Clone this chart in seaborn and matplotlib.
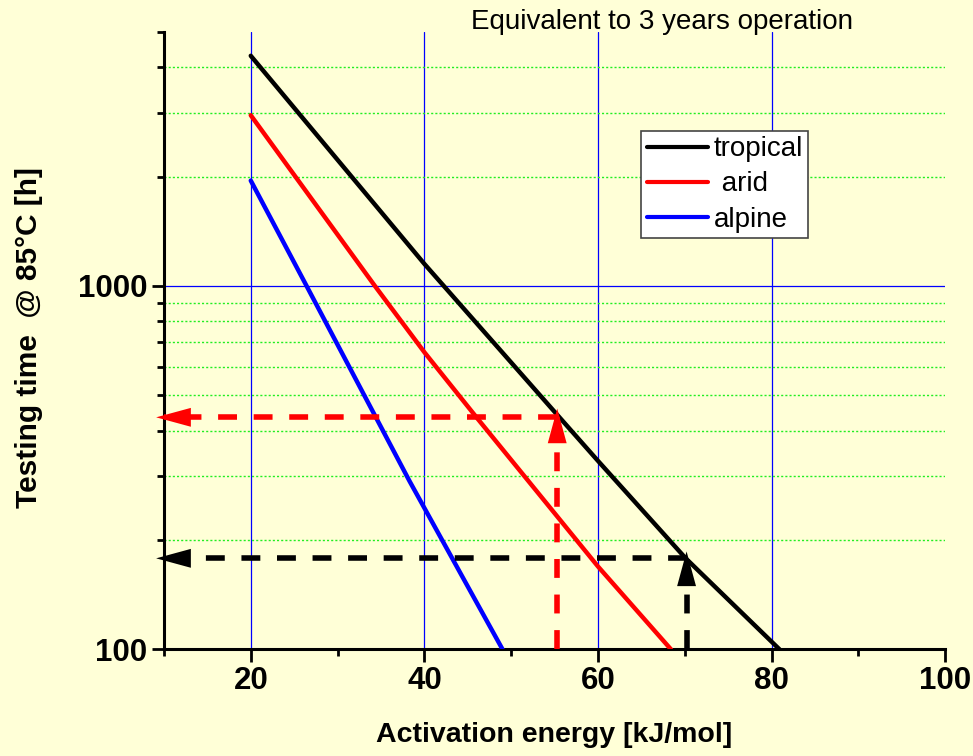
#!/usr/bin/env python
# -*- coding: utf-8 -*-
"""Testing time at 85 C equivalent to 3 years of operation."""
import numpy as np
import pandas as pd
import matplotlib
matplotlib.use('Agg')
import matplotlib.pyplot as plt
import matplotlib.ticker as mticker
import seaborn as sns

# values
tropical_ea = [20, 40, 54.8, 60, 70.1, 80.9]
tropical_time = [4300, 1150, 456, 330, 178, 100]
arid_ea = [20, 34.3, 40, 46, 60, 68.4]
arid_time = [2950, 1000, 657, 435, 169, 100]
alpine_ea = [20, 26.1, 34.5, 38.3, 49]
alpine_time = [1950, 1035, 431, 290, 100]

climates = ['tropical', 'arid', 'alpine']
legend_labels = ['tropical', ' arid', 'alpine']
colors = {'tropical': 'black', 'arid': 'red', 'alpine': 'blue'}

# read-off construction for the two marked points
arrow_ea = [55.3, 70.2]
arrow_time = [435, 178]
arrow_tip = [460, 186]
arrow_colors = ['red', 'black']

grid_ea = [20, 40, 60, 80]
title = 'Equivalent to 3 years operation'
BG = '#FFFFD7'

sns.set_theme(style='ticks')
plt.rcParams['font.family'] = ['Liberation Sans', 'DejaVu Sans']
plt.rc('figure', facecolor=BG)
plt.rc('axes', facecolor=BG, labelcolor='black')
plt.rc('savefig', facecolor=BG)
plt.rc('text', color='black')
plt.rc('xtick', color='black')
plt.rc('ytick', color='black')

dfs = []
for name, ea, tt in [('tropical', tropical_ea, tropical_time),
                     ('arid', arid_ea, arid_time),
                     ('alpine', alpine_ea, alpine_time)]:
    dfs.append(pd.DataFrame({'ea': ea, 'time': tt, 'climate': name}))
data = pd.concat(dfs, ignore_index=True)

fig = plt.figure(figsize=(9.73, 7.56), dpi=100)
ax = fig.add_axes([0.1685, 0.1411, 0.8030, 0.8166])

ax.set_yscale('log')
ax.set_xlim(10, 100)
ax.set_ylim(100, 5000)

# grid
for gx in grid_ea:
    ax.axvline(gx, color='blue', lw=0.9, zorder=1)
ax.yaxis.set_major_locator(mticker.LogLocator(base=10))
ax.yaxis.set_minor_locator(mticker.LogLocator(base=10, subs=np.arange(2, 10)))
ax.yaxis.set_major_formatter(mticker.FuncFormatter(lambda v, _: f'{v:g}'))
ax.yaxis.set_minor_formatter(mticker.NullFormatter())
ax.yaxis.grid(True, which='major', color='blue', lw=0.9, zorder=1)
minor_y = [v for v in ax.yaxis.get_minorticklocs() if 100 < v < 5000]
ax.hlines(minor_y, 10, 100, color='#22EE22', lw=1.0, linestyles=(0, (1.5, 1.5)),
          zorder=1)
ax.set_axisbelow(True)

sns.lineplot(data=data, x='ea', y='time', hue='climate', hue_order=climates,
             palette=colors, estimator=None, lw=3.2, ax=ax, zorder=3,
             legend=True)

# dashed read-off lines with arrow heads
head = '-|>,head_length=1.25,head_width=0.34'
for ea, tt, tip, col in zip(arrow_ea, arrow_time, arrow_tip, arrow_colors):
    ax.plot([ea, ax.get_xlim()[0]], [tt, tt], color=col, lw=4,
            dashes=(3.4, 3.0), zorder=4)
    ax.plot([ea, ea], [ax.get_ylim()[0], tip], color=col, lw=4,
            dashes=(3.4, 3.0), zorder=4, clip_on=False)
    ax.annotate('', xy=(9.1, tt), xytext=(ea, tt), annotation_clip=False,
                arrowprops=dict(arrowstyle=head, mutation_scale=20,
                                color=col, lw=0, shrinkA=0, shrinkB=0),
                zorder=5)
    ax.annotate('', xy=(ea, tip), xytext=(ea, ax.get_ylim()[0]),
                annotation_clip=False,
                arrowprops=dict(arrowstyle=head, mutation_scale=20,
                                color=col, lw=0, shrinkA=0, shrinkB=0),
                zorder=5)

ax.set_xticks([20, 40, 60, 80, 100])
ax.xaxis.set_minor_locator(mticker.FixedLocator([10, 30, 50, 70, 90]))
ax.tick_params(which='major', length=9, width=2, direction='out',
               labelsize=22.5, pad=3, colors='black')
ax.tick_params(which='minor', length=5, width=2, direction='out')
for lab in ax.get_xticklabels() + ax.get_yticklabels():
    lab.set_fontweight('bold')

for side in ['top', 'right']:
    ax.spines[side].set_visible(False)
for side in ['left', 'bottom']:
    ax.spines[side].set_linewidth(2.2)
    ax.spines[side].set_color('black')

ax.set_xlabel('Activation energy [kJ/mol]', fontsize=20.5, fontweight='bold')
ax.set_ylabel('Testing time  @ 85°C [h]', fontsize=21.5, fontweight='bold')
ax.xaxis.set_label_coords(0.5, -0.118)
ax.yaxis.set_label_coords(-0.155, 0.505)

handles, _ = ax.get_legend_handles_labels()
leg = ax.legend(handles[:3], legend_labels, loc='upper left',
                bbox_to_anchor=(0.611, 0.84), borderaxespad=0,
                fontsize=20, frameon=True, fancybox=False, framealpha=1,
                edgecolor='#444444', facecolor='white', handlelength=2.2,
                handletextpad=0.2, labelspacing=0.33, borderpad=0.2)
leg.get_frame().set_linewidth(1.2)
for line in leg.get_lines():
    line.set_linewidth(3)

fig.text(662 / 973, 1 - 22 / 756, title, fontsize=20, ha='center',
         va='center')

fig.savefig('out.png', dpi=100)
